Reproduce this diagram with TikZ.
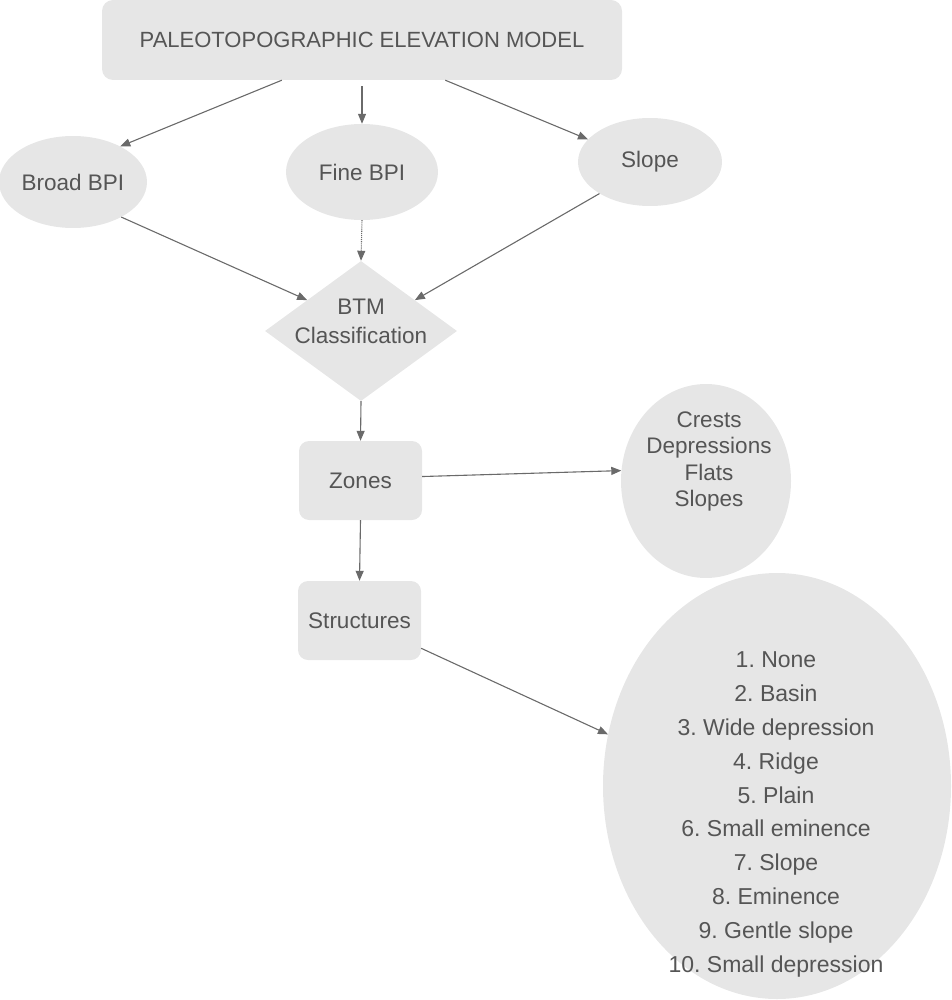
\documentclass[tikz,border=0pt]{standalone}
\usepackage{fontspec}
\setmainfont{Liberation Sans}
\usetikzlibrary{shapes.geometric,arrows.meta,calc}
\definecolor{boxfill}{HTML}{E6E6E6}
\definecolor{txt}{HTML}{555555}
\definecolor{arr}{HTML}{6A6A6A}
\tikzset{
  lbl/.style={text=txt,font=\frenchspacing\fontsize{22.5}{26}\selectfont,align=center,inner sep=0pt},
  rbox/.style={lbl,draw=none,fill=boxfill,rounded corners=11pt,inner sep=0pt},
  oval/.style={lbl,ellipse,draw=none,fill=boxfill,inner sep=0pt},
  conn/.style={draw=arr,line width=1.1pt,-{Triangle[length=10pt,width=8pt]}},
}
\begin{document}
\frenchspacing
\begin{tikzpicture}[x=1pt,y=-1pt]
\useasboundingbox (0,0) rectangle (951,1000);
\node[rbox,minimum width=520pt,minimum height=80pt,font=\fontsize{22}{26}\selectfont] (title) at (362,40) {PALEOTOPOGRAPHIC ELEVATION MODEL};
\node[oval,minimum width=148pt,minimum height=92pt] (broad) at (73,182) {Broad BPI};
\node[oval,minimum width=152pt,minimum height=96pt] (fine) at (362,172) {Fine BPI};
\node[oval,minimum width=144pt,minimum height=88pt] (slope) at (650,162) {Slope};
\node[diamond,fill=boxfill,aspect=1.37,inner sep=0pt,minimum width=192pt,minimum height=140pt] (btm) at (361,331) {};
\node[lbl,font=\frenchspacing\fontsize{22.5}{29}\selectfont] (btmtext) at (361,321) {BTM\\Classification};
\node[rbox,minimum width=123pt,minimum height=79pt,rounded corners=10pt] (zones) at (360.5,480.5) {Zones};
\node[rbox,minimum width=123pt,minimum height=79pt,rounded corners=10pt] (structures) at (359.5,620.5) {Structures};
\node[oval,minimum width=170pt,minimum height=194pt] (crests) at (706,481) {};
\node[lbl,font=\frenchspacing\fontsize{22.5}{26.3}\selectfont] (creststext) at (709,461.5) {Crests\\Depressions\\Flats\\Slopes};
\node[oval,minimum width=348pt,minimum height=426pt] (list) at (777,786) {};
\node[lbl,font=\frenchspacing\fontsize{23}{33.9}\selectfont] (listtext) at (776,814.5) {1. None\\2. Basin\\3. Wide depression\\4. Ridge\\5. Plain\\6. Small eminence\\7. Slope\\8. Eminence\\9. Gentle slope\\10. Small depression};
\draw[conn] ($(title.south west)!0.346!(title.south east)$) -- (broad.37);
\draw[conn] ($(title.south)+(0,6)$) -- (fine.north);
\draw[conn] ($(title.south west)!0.66!(title.south east)$) -- (slope.160);
\draw[conn] (broad.-36) -- ($(btm.north)!0.56!(btm.west)$);
\draw[conn,densely dotted] (fine.south) -- (btm.north);
\draw[conn] (slope.212) -- ($(btm.north)!0.56!(btm.east)$);
\draw[conn] (btm.south) -- (zones.north);
\draw[conn] ($(zones.north east)!0.45!(zones.south east)$) -- (crests.173);
\draw[conn] (zones.south) -- (structures.north);
\draw[conn] ($(structures.north east)!0.85!(structures.south east)$) -- (list.163);
\end{tikzpicture}
\end{document}
